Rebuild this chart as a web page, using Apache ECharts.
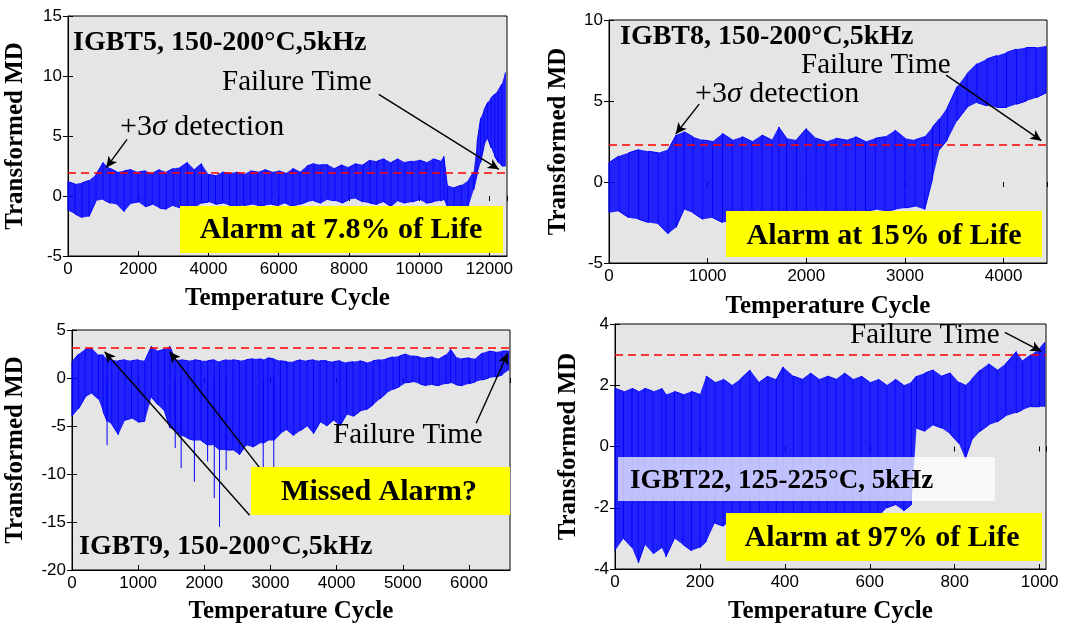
<!DOCTYPE html>
<html>
<head>
<meta charset="utf-8">
<script src="https://cdn.jsdelivr.net/npm/echarts@6/dist/echarts.min.js"></script>
<style>
html, body { margin: 0; background: #fff; }
#main { width: 1068px; height: 626px; }
</style>
</head>
<body>
<div id="main"></div>
<script>
// IGBT5 (cycle, lower / upper edge of the MD trace)
var cyc5 = [0,200,400,600,800,1000,1200,1400,1600,1800,2000,2200,2400,2600,2800,3000,3200,3400,3600,3800,4000,4200,4400,4600,4800,5000,5200,5400,5600,5800,6000,6200,6400,6600,6800,7000,7200,7400,7600,7800,8000,8200,8400,8600,8800,9000,9200,9400,9600,9800,10000,10200,10400,10600,10700,10800,11000,11200,11400,11550,11650,11750,11850,11950,12050,12150,12250,12350,12450];
var lo5 = [-1.2,-1.5,-1.8,-1.7,-0.4,-0.3,-0.6,-0.7,-1.3,-0.6,-0.5,-0.9,-0.7,-1.0,-1.1,-0.8,-1.0,-0.9,-1.0,-0.6,-0.5,-0.7,-0.6,-0.8,-0.9,-0.8,-0.7,-0.8,-0.8,-0.7,-0.8,-0.6,-0.9,-0.7,-0.5,-0.4,-0.6,-0.3,-0.4,-0.6,-0.3,-0.2,-0.5,-0.6,-0.7,-0.5,-0.9,-0.4,-0.6,-0.5,-0.3,-0.6,-0.5,-0.4,-0.3,-1.0,-1.0,-1.0,-0.9,0.5,1.8,2.8,4.2,4.8,4.0,3.3,2.8,2.5,2.5];
var hi5 = [1.2,1.0,1.1,1.3,1.8,2.8,2.3,2.0,2.1,2.2,2.0,2.1,1.9,2.2,2.0,2.3,2.4,2.8,2.2,2.7,1.8,1.7,2.0,1.9,2.0,1.8,2.1,2.0,2.2,2.0,2.1,1.9,2.3,2.0,2.5,2.7,2.6,2.6,2.3,2.6,2.4,2.7,2.6,3.0,2.9,3.1,2.8,3.1,2.8,2.9,3.0,2.8,3.1,2.9,3.3,0.9,0.7,0.9,1.3,2.0,4.5,6.5,7.2,7.8,8.2,8.5,8.8,9.3,10.3];

// IGBT8
var cyc8 = [0,100,200,300,400,500,600,680,760,850,950,1050,1150,1250,1350,1450,1550,1650,1720,1800,1900,2000,2100,2200,2300,2400,2500,2600,2700,2800,2900,3000,3100,3200,3280,3350,3430,3530,3630,3730,3830,3930,4030,4130,4230,4330,4430];
var lo8 = [-1.9,-1.8,-2.2,-2.3,-2.5,-2.6,-3.2,-2.8,-1.7,-1.9,-2.3,-2.2,-2.5,-2.4,-2.3,-2.3,-2.2,-2.1,-2.0,-2.2,-2.1,-2.0,-2.2,-2.0,-1.9,-1.9,-1.8,-1.8,-1.7,-1.8,-1.7,-1.6,-1.5,-1.7,0.2,2.0,2.6,3.8,4.6,4.9,4.7,4.6,4.6,4.8,5.0,5.2,5.5];
var hi8 = [1.2,1.6,1.8,2.0,1.9,1.8,2.0,2.9,3.1,2.8,2.6,2.5,3.0,2.6,2.8,2.5,2.9,2.6,3.4,2.7,2.6,3.3,2.7,2.5,2.7,2.6,2.8,2.5,2.7,2.8,3.2,2.7,2.6,2.8,3.4,3.9,4.6,5.9,6.7,7.3,7.6,7.8,8.0,8.2,8.3,8.3,8.4];

// IGBT9
var cyc9 = [0,100,200,300,400,470,530,600,700,800,900,1000,1100,1200,1300,1400,1480,1560,1650,1750,1850,1950,2050,2150,2230,2330,2430,2530,2630,2730,2830,2890,2960,3050,3150,3250,3350,3450,3550,3650,3750,3850,3950,4050,4150,4250,4350,4450,4550,4650,4750,4850,4950,5050,5150,5250,5350,5450,5550,5650,5720,5800,5900,6000,6100,6200,6300,6400,6500,6600];
var lo9 = [-4.0,-3.2,-2.0,-1.6,-2.2,-3.5,-4.5,-4.8,-5.9,-4.4,-4.2,-4.6,-4.5,-2.0,-2.8,-3.5,-5.2,-5.5,-6.0,-6.3,-6.5,-6.5,-7.0,-7.0,-7.5,-7.5,-7.5,-8.0,-7.0,-7.2,-6.8,-6.8,-6.5,-6.5,-5.8,-5.4,-6.0,-5.5,-5.0,-5.8,-4.6,-5.0,-4.4,-5.0,-3.8,-4.0,-3.5,-3.3,-2.8,-2.2,-1.6,-1.2,-0.9,-0.5,-0.4,-0.6,-0.8,-0.7,-0.8,-0.6,-0.5,-0.7,-0.8,-0.6,-0.4,-0.2,0.0,0.1,0.3,0.8];
var hi9 = [1.7,2.5,3.0,3.1,2.4,2.4,2.0,1.9,1.8,1.9,1.8,1.9,1.8,3.3,2.8,3.0,3.3,1.9,1.9,1.8,1.9,1.8,1.8,1.9,1.7,1.9,1.9,1.8,1.9,2.0,2.0,1.9,2.1,2.0,1.8,1.7,1.7,1.9,1.8,1.9,1.8,1.8,1.7,1.8,1.6,1.7,1.8,1.6,1.8,1.9,2.0,2.2,2.3,2.5,2.3,2.2,2.1,2.2,2.0,2.4,3.0,2.2,2.0,2.1,2.0,2.6,2.8,2.7,2.8,2.8];
// single deep spikes of IGBT9
var spikeX9 = [530,1560,1650,1850,2050,2150,2230,2330,2890,3050];
var spikeY9 = [-7.0,-7.3,-9.4,-10.8,-8.7,-12.5,-15.5,-9.6,-9.9,-9.5];

// IGBT22
var cyc22 = [0,20,40,55,70,90,110,120,140,160,180,200,215,235,255,275,295,318,340,360,380,396,420,440,460,480,500,520,540,560,580,600,620,640,660,680,698,710,730,750,770,790,810,825,840,860,880,900,920,945,960,980,1000,1012];
var lo22 = [-3.4,-3.0,-3.3,-3.8,-3.2,-3.5,-3.3,-3.6,-3.0,-3.2,-3.4,-3.3,-3.1,-2.5,-2.6,-2.4,-2.8,-2.5,-2.6,-2.4,-2.6,-2.5,-2.4,-2.6,-2.3,-2.5,-2.4,-2.5,-2.3,-2.4,-2.2,-2.4,-2.3,-2.0,-1.9,-2.1,-1.9,0.6,0.5,0.7,0.6,0.4,0.1,-0.4,0.2,0.5,0.7,0.8,1.0,1.1,1.2,1.3,1.3,1.3];
var hi22 = [1.9,1.8,1.9,1.8,1.9,1.8,1.9,1.7,1.8,1.7,1.8,1.7,2.3,2.1,2.2,2.0,2.2,2.5,2.1,2.3,2.2,2.6,2.3,2.2,2.4,2.2,2.3,2.2,2.4,2.2,2.3,2.1,2.2,2.0,2.2,2.0,2.1,2.3,2.4,2.5,2.3,2.4,2.1,2.0,2.2,2.5,2.7,2.5,2.7,3.1,2.8,3.0,3.2,3.4];

// +3 sigma thresholds
var thresholds = [1.95, 2.3, 3.1, 3.0];

var serif = '"Liberation Serif", "Times New Roman", serif';
var sans = '"Liberation Sans", Arial, sans-serif';

var myChart = echarts.init(document.getElementById('main'));

function zig(xs, lo, hi) {
  var out = [];
  for (var i = 0; i < xs.length; i++) {
    if (i % 2 === 0) { out.push([xs[i], lo[i]], [xs[i], hi[i]]); }
    else { out.push([xs[i], hi[i]], [xs[i], lo[i]]); }
  }
  return out;
}
function band(xs, lo, hi) {
  var out = [];
  for (var i = 0; i < xs.length - 1; i++) {
    out.push([xs[i], lo[i], hi[i], xs[i + 1], lo[i + 1], hi[i + 1]]);
  }
  return out;
}
function renderBand(params, api) {
  var a = api.coord([api.value(0), api.value(1)]);
  var b = api.coord([api.value(0), api.value(2)]);
  var c = api.coord([api.value(3), api.value(5)]);
  var d = api.coord([api.value(3), api.value(4)]);
  return { type: 'polygon', shape: { points: [a, b, c, d] }, style: { fill: 'rgba(0,0,255,0.85)' } };
}
function renderSpike(params, api) {
  var a = api.coord([api.value(0), 0]);
  var b = api.coord([api.value(0), api.value(1)]);
  return { type: 'line', shape: { x1: a[0], y1: a[1], x2: b[0], y2: b[1] }, style: { stroke: '#0000ff', lineWidth: 1 } };
}

var grids = [
  { left: 68, top: 16, width: 439, height: 240 },
  { left: 609, top: 20, width: 438, height: 243 },
  { left: 72, top: 330, width: 438, height: 240 },
  { left: 615, top: 324, width: 431, height: 245 }
];
grids.forEach(function (g) {
  g.show = true; g.backgroundColor = '#e5e5e5'; g.borderColor = '#000'; g.borderWidth = 1;
});

var xMax = [12500, 4440, 6620, 1015];
var xStep = [2000, 1000, 1000, 200];
var yMin = [-5, -5, -20, -4];
var yMax = [15, 10, 5, 4];
var yStep = [5, 5, 5, 2];
var yGap = [40, 38, 44, 34];
var xGap = [30, 31, 29, 30];

function plain(v) { return String(v); }

var xAxes = [], yAxes = [];
for (var i = 0; i < 4; i++) {
  xAxes.push({
    type: 'value', gridIndex: i, min: 0, max: xMax[i], interval: xStep[i],
    name: 'Temperature Cycle', nameLocation: 'middle', nameGap: xGap[i],
    nameTextStyle: { fontFamily: serif, fontWeight: 'bold', fontSize: 25, color: '#000' },
    axisLine: { show: true, onZero: false, lineStyle: { color: '#000', width: 1 } },
    axisTick: { inside: true, length: 5, lineStyle: { color: '#000' } },
    axisLabel: { fontFamily: sans, fontSize: 17, color: '#000', margin: 5, showMaxLabel: false, formatter: plain },
    splitLine: { show: false }
  });
  yAxes.push({
    type: 'value', gridIndex: i, min: yMin[i], max: yMax[i], interval: yStep[i],
    name: 'Transformed MD', nameLocation: 'middle', nameGap: yGap[i],
    nameTextStyle: { fontFamily: serif, fontWeight: 'bold', fontSize: 25, color: '#000' },
    axisLine: { show: true, onZero: false, lineStyle: { color: '#000', width: 1 } },
    axisTick: { inside: true, length: 5, lineStyle: { color: '#000' } },
    axisLabel: { fontFamily: sans, fontSize: 17, color: '#000', margin: 6, formatter: plain },
    splitLine: { show: false }
  });
}
// mirrored ticks on top / right, like a boxed plot
for (var j = 0; j < 4; j++) {
  xAxes.push({
    type: 'value', gridIndex: j, position: 'top', min: 0, max: xMax[j], interval: xStep[j],
    axisLine: { show: false }, axisLabel: { show: false }, splitLine: { show: false },
    axisTick: { inside: true, length: 5, lineStyle: { color: '#000' } }
  });
  yAxes.push({
    type: 'value', gridIndex: j, position: 'right', min: yMin[j], max: yMax[j], interval: yStep[j],
    axisLine: { show: false }, axisLabel: { show: false }, splitLine: { show: false },
    axisTick: { inside: true, length: 5, lineStyle: { color: '#000' } }
  });
}

var traces = [[cyc5, lo5, hi5], [cyc8, lo8, hi8], [cyc9, lo9, hi9], [cyc22, lo22, hi22]];

// arrow annotations, in data coordinates
var arrows = [
  [[[1681, 4.72], [1091, 2.36]], [[8849, 8.47], [12268, 2.22]]],
  [[[914, 4.81], [677, 2.96]], [[3418, 6.6], [4383, 2.55]]],
  [[[2684, -14.3], [494, 2.74]], [[2961, -10.45], [1476, 2.74]], [[6109, -4.72], [6586, 2.57]]],
  [[[918, 3.73], [1004, 3.11]]]
];

var series = [];
traces.forEach(function (t, i) {
  series.push({
    type: 'custom', xAxisIndex: i, yAxisIndex: i, renderItem: renderBand,
    data: band(t[0], t[1], t[2]), encode: { x: [0, 3], y: [1, 2, 4, 5] }, silent: true, z: 2
  });
  var ml = [{
    yAxis: thresholds[i], symbol: 'none',
    lineStyle: { color: '#ff0000', type: [8, 5], width: 1.6 }
  }];
  arrows[i].forEach(function (a) {
    ml.push([
      { coord: a[0], symbol: 'none', lineStyle: { color: '#000', type: 'solid', width: 1.4 } },
      { coord: a[1], symbol: 'arrow', symbolSize: [8, 11] }
    ]);
  });
  series.push({
    type: 'line', xAxisIndex: i, yAxisIndex: i, data: zig(t[0], t[1], t[2]),
    showSymbol: false, silent: true, z: 3,
    lineStyle: { color: '#0000ff', width: 1 },
    markLine: { silent: true, symbol: ['none', 'none'], label: { show: false }, animation: false, data: ml }
  });
});
series.push({
  type: 'custom', xAxisIndex: 2, yAxisIndex: 2, renderItem: renderSpike, silent: true, z: 3,
  data: spikeX9.map(function (x, k) { return [x, spikeY9[k]]; })
});

function txt(x, y, s, size, bold, align) {
  return {
    type: 'text', x: x, y: y, z: 110,
    style: {
      text: s, fill: '#000', fontFamily: serif, fontSize: size,
      fontWeight: bold ? 'bold' : 'normal', textAlign: align || 'left', textVerticalAlign: 'middle',
      rich: { s: { fontFamily: serif, fontSize: size, fontStyle: 'italic' } }
    }
  };
}
function box(x, y, w, h, fill) {
  return { type: 'rect', z: 100, shape: { x: x, y: y, width: w, height: h }, style: { fill: fill } };
}

var graphic = [
  txt(73, 43, 'IGBT5, 150-200°C,5kHz', 28, true),
  txt(222, 82, 'Failure Time', 29, false),
  txt(120, 127, '+3{s|σ} detection', 30, false),
  box(180, 206, 323, 47, '#ffff00'),
  txt(341, 230, 'Alarm at 7.8% of Life', 30, true, 'center'),

  txt(620, 37, 'IGBT8, 150-200°C,5kHz', 28, true),
  txt(801, 65, 'Failure Time', 29, false),
  txt(695, 94, '+3{s|σ} detection', 30, false),
  box(726, 211, 316, 46, '#ffff00'),
  txt(884, 236, 'Alarm at 15% of Life', 30, true, 'center'),

  txt(79, 547, 'IGBT9, 150-200°C,5kHz', 28, true),
  txt(333, 435, 'Failure Time', 29, false),
  box(251, 467, 259, 48, '#ffff00'),
  txt(379, 492, 'Missed Alarm?', 30, true, 'center'),

  txt(850, 335, 'Failure Time', 29, false),
  box(618, 457, 377, 44, 'rgba(255,255,255,0.72)'),
  txt(630, 481, 'IGBT22, 125-225°C, 5kHz', 27, true),
  box(726, 513, 316, 48, '#ffff00'),
  txt(882, 538, 'Alarm at 97% of Life', 30, true, 'center')
];

var option = {
  animation: false,
  backgroundColor: '#fff',
  grid: grids,
  xAxis: xAxes,
  yAxis: yAxes,
  series: series,
  graphic: graphic
};
myChart.setOption(option);
</script>
</body>
</html>
